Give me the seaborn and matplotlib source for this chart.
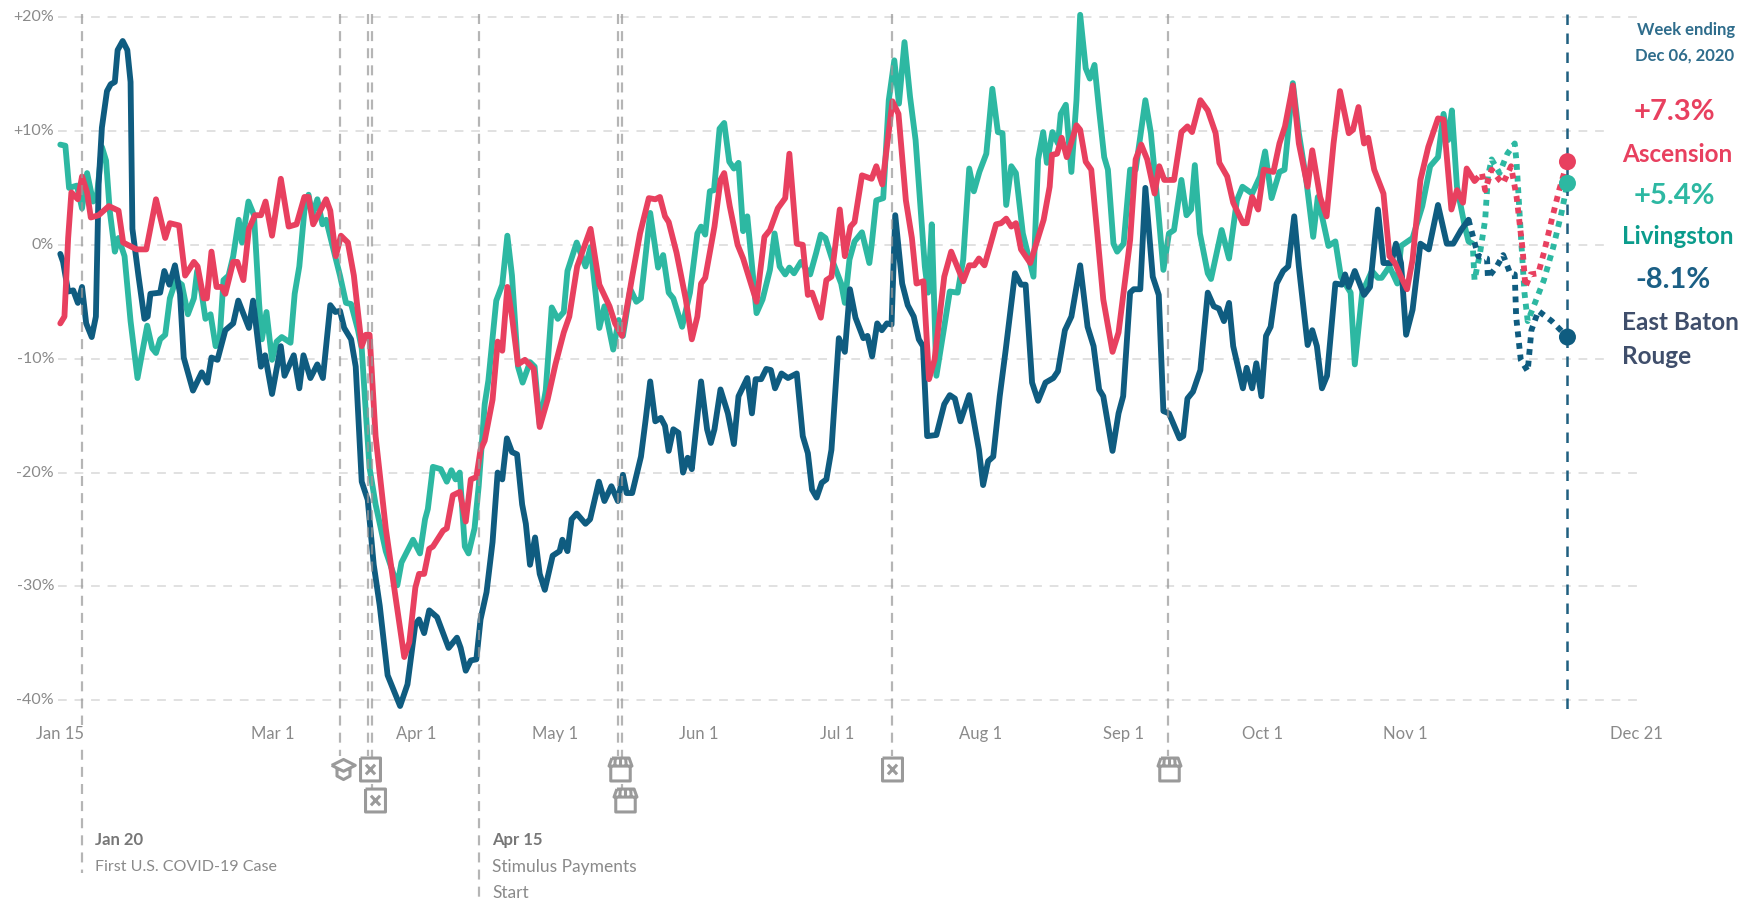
import pandas as pd
import seaborn as sns
import matplotlib.pyplot as plt
from matplotlib.path import Path

# x values are days since Jan 15 2020, y values are % change
START = pd.Timestamp("2020-01-15")

ebr_days = [0, 0.6, 1.7, 2.8, 3.8, 4.7, 5.6, 6.8, 7.7, 8.3, 9, 10.1, 10.9, 11.8, 12.4, 13.5, 14.5, 15.2, 15.6, 16.9,
            18.2, 18.9, 19.5, 21.6, 22.5, 23.6, 24.8, 25.9, 26.7, 28.7, 30.6, 31.8, 32.7, 34, 35.7, 37.4, 38.5, 40.8,
            41.7, 43.4, 44.3, 45.8, 47.7, 48.5, 50.5, 51.7, 52.6, 54.1, 55.6, 56.8, 58.4, 59.5, 60.5, 61.4, 62.9, 63.9,
            65.2, 66.5, 67.8, 69.1, 70.8, 73.5, 75.1, 76.8, 77.6, 78.7, 79.8, 81.5, 84, 85.8, 86.6, 87.7, 88.8, 90,
            90.9, 92.2, 93.5, 94.6, 95.6, 96.6, 97.7, 98.8, 99.9, 100.7, 101.6, 102.7, 103.7, 104.8, 106.5, 108, 108.6,
            109.7, 110.6, 111.7, 113.6, 114.6, 116.5, 117.7, 119.2, 120.6, 121.7, 122.5, 123.7, 125.6, 126.6, 127.6,
            128.7, 129.9, 130.8, 131.6, 132.6, 133.7, 134.7, 135.7, 136.6, 138.6, 139.9, 140.7, 141.5, 142.8, 144.4,
            145.7, 146.7, 148.6, 149.6, 150.4, 151.6, 152.7, 153.7, 154.6, 156, 157.4, 159.3, 160.6, 161.7, 162.6,
            163.6, 164.7, 165.7, 166.8, 168, 168.4, 169.7, 170.8, 172, 173.7, 174.6, 175.6, 176.7, 177.7, 178.8, 179.8,
            180.6, 182.1, 183.3, 184.6, 185.7, 186.6, 187.5, 189.5, 191.2, 192.4, 193.5, 194.7, 196.6, 198.7, 199.6,
            200.7, 201.8, 203.2, 204.5, 206.5, 207.8, 208.8, 210.2, 211.5, 213.1, 214.8, 215.8, 217.3, 218.7, 220.6,
            222.2, 223.5, 224.7, 225.6, 227.6, 228.9, 229.9, 231.4, 232.2, 233.6, 234.7, 236.3, 237.6, 238.6, 239.8,
            242.1, 242.9, 243.8, 245, 246.6, 248.2, 249.5, 250.6, 251.7, 252.8, 253.7, 255.8, 256.6, 257.8, 258.7,
            259.8, 260.8, 261.8, 263.1, 264.5, 265.6, 266.9, 267.9, 269.8, 270.8, 271.8, 272.9, 274, 275.8, 277.2,
            277.9, 278.7, 280, 282, 283.3, 285, 286.2, 287.9, 288.9, 290, 291.1, 292.5, 294.2, 296, 298, 299.9, 301.3,
            303, 304.6]
ebr_values = [-0.8, -1.5, -4.1, -4, -5.1, -3.7, -6.9, -8.1, -6.3, 5.4, 10.3, 13.5, 14.1, 14.3, 17.1, 17.9, 17.1, 14.3,
              1.4, -2.7, -6.5, -6.3, -4.3, -4.2, -2.3, -3.5, -1.8, -4.3, -9.9, -12.8, -11.2, -12.1, -9.9, -10.1, -7.5,
              -6.9, -4.9, -7.3, -4.9, -10.7, -9.7, -13.1, -8.9, -11.5, -9.7, -12.6, -9.7, -11.7, -10.5, -11.7, -5.3,
              -5.9, -5.8, -7.3, -8.3, -10.7, -20.8, -22.4, -28.1, -31.7, -37.8, -40.5, -38.6, -33.3, -32.9, -34.1,
              -32.1, -32.7, -35.4, -34.5, -35.4, -37.4, -36.5, -36.4, -32.9, -30.5, -26.1, -20, -20.6, -17, -18.2,
              -18.4, -22.8, -24.5, -28.1, -25.7, -28.9, -30.3, -27.3, -26.9, -25.9, -26.9, -24.1, -23.6, -24.5, -24.1,
              -20.8, -22.5, -21.2, -22.5, -20.2, -21.8, -21.8, -18.6, -15.4, -12, -15.5, -15.2, -15.9, -18.1, -16.2,
              -16.5, -20, -18.7, -19.7, -12, -16.2, -17.4, -16.2, -12.7, -14.8, -17.5, -13.3, -11.7, -14.8, -11.8,
              -11.8, -10.9, -11, -12.6, -11.3, -11.7, -11.3, -16.8, -18.3, -21.5, -22.2, -20.9, -20.6, -18, -10.7,
              -8.2, -9.4, -3.9, -6.4, -8.2, -8, -9.8, -6.9, -7.5, -6.9, -7, 2.6, -3.4, -5.3, -6.3, -8.3, -8.9, -16.8,
              -16.7, -14, -13.2, -13.5, -15.5, -13.2, -18, -21.1, -19, -18.6, -13.3, -9.2, -2.5, -3.5, -3.5, -12.1,
              -13.7, -12.1, -11.7, -11.1, -7.5, -6.3, -1.8, -7.2, -8.9, -12.7, -13.3, -18.1, -14.8, -13.3, -4.2, -3.9,
              -3.9, 5, -2.8, -4.4, -14.6, -14.8, -17, -16.8, -13.5, -12.9, -11, -4.2, -5.4, -5.6, -6.7, -5.1, -8.9,
              -12.6, -10.8, -12.6, -10.4, -13.3, -8, -7.2, -3.4, -2.3, -1.9, 2.5, -1.9, -8.8, -7.5, -8.9, -12.6, -11.5,
              -3.4, -3.5, -2.6, -3.7, -2.3, -4.4, -3.7, 3.1, -1.6, -1.6, 0.1, -1.6, -7.9, -5.7, 0.1, -0.4, 3.5, 0.1,
              0.1, 1.3, 2.2]
ebr_proj_days = [304.6, 306.7, 308.6, 308.8, 310.7, 312.1, 313.6, 314.6, 314.9, 315.9, 317.4, 318.2, 319.7, 322.6, 326]
ebr_proj_values = [2.2, -1, -1.2, -2.9, -1.9, -0.9, -2.5, -2.6, -6.3, -10.1, -11.1, -7.5, -5.8, -6.7, -8.1]

liv_days = [0, 1.1, 1.9, 3.6, 4.7, 5.8, 7.1, 7.9, 9, 9.9, 10.7, 11.8, 12.6, 13.9, 15.2, 16.7, 17.7, 18.8, 19.9, 20.7,
            21.6, 22.7, 23.7, 25, 26.3, 27.6, 28.9, 29.6, 30.6, 31.4, 32.5, 33.6, 34.4, 35.3, 36.4, 37.4, 38.6, 39.3,
            40.7, 41.9, 43, 43.6, 44.6, 45.8, 46.8, 47.9, 49.8, 50.7, 51.7, 52.8, 53.7, 54.5, 55.6, 56.7, 57.5, 59.2,
            60.5, 61.8, 62.9, 64.4, 65.2, 66.1, 66.9, 68.2, 70.4, 72.9, 73.8, 76.3, 77.8, 78.9, 79.5, 80.6, 82.3, 83.6,
            84.6, 85.5, 86.4, 87.5, 88.3, 89.6, 90.5, 91.8, 92.6, 94.3, 95.6, 96.7, 97.7, 99, 100, 101.6, 102.6, 103.7,
            105, 106.3, 107.6, 108.9, 109.7, 111.7, 113.6, 114.7, 116.6, 117.7, 119.6, 120.8, 121.7, 123.3, 124.6,
            125.6, 127.6, 129.3, 130.4, 131.6, 132.6, 134.5, 136.2, 137.8, 138.6, 139.5, 140.5, 141.4, 142.6, 143.6,
            144.7, 145.7, 146.7, 147.7, 148.6, 150.6, 151.9, 153.5, 154.5, 155.6, 156.8, 157.7, 158.7, 160.2, 162.2,
            163.5, 164.5, 165.5, 167.2, 168.9, 169.7, 170.7, 171.8, 173.4, 175, 175.5, 176.5, 178, 179.2, 180.4, 181.4,
            182.6, 183.8, 185, 187, 187.7, 188.5, 189.5, 191.2, 192.4, 194.1, 195.3, 196.6, 197.6, 198.8, 200.3, 201.6,
            202.8, 203.8, 204.6, 205.7, 206.7, 208.2, 210.5, 211.5, 212.6, 213.4, 214.6, 215.8, 216.4, 217.5, 218.7,
            219.8, 220.6, 221.8, 222.7, 223.7, 224.7, 225.8, 226.6, 227.8, 228.6, 230, 231.4, 232.6, 234.7, 235.9,
            237.4, 238.6, 239.8, 240.9, 242.5, 243.6, 244.6, 245.4, 246.5, 248.2, 248.9, 251.2, 252.8, 254.5, 255.7,
            257.8, 259.5, 260.6, 262, 263.7, 264.8, 266.6, 267.9, 269.5, 271, 272, 274.3, 275.8, 277, 279.1, 280,
            281.6, 283.7, 285, 285.8, 287.5, 289.2, 290, 292.5, 294.6, 296.3, 298, 299.2, 300.2, 301, 302.1, 303.8,
            304.6]
liv_values = [8.8, 8.7, 5, 5.2, 3.2, 6.3, 3.8, 4.2, 8.6, 7.4, 3, -0.6, 0.6, -1, -6.7, -11.7, -9.5, -7.1, -9.1, -9.5,
              -8.3, -7.9, -4.7, -3.1, -3.5, -6.1, -4.7, -2.3, -4.3, -6.5, -6.1, -8.9, -8.7, -3.1, -2.7, -1, 2.2, 0.2,
              3.8, 2.6, -5.1, -8.3, -5.9, -10.1, -8.5, -8.1, -8.6, -4.3, -1.9, 3, 4.4, 2.6, 4, 1.8, 2.2, -0.6, -2.7,
              -5.1, -5.2, -7.5, -9.1, -14.8, -19.6, -22.8, -26.9, -29.9, -27.9, -25.9, -27.1, -24.1, -23.2, -19.5,
              -19.7, -20.8, -19.8, -20.6, -20, -26.5, -27.1, -24.9, -21.2, -14, -11.9, -4.9, -3.5, 0.8, -2.7, -10.7,
              -12.1, -10.3, -10.7, -15.8, -12.8, -5.5, -6.5, -5.9, -2.3, 0.2, -1.9, -0.2, -7.3, -5.4, -9.2, -6.6, -8,
              -3.9, -5, -4.7, 2.8, -2, -0.9, -4.2, -4.7, -7.2, -4.2, 1, 1.6, 0.9, 4.7, 4.8, 10.2, 10.7, 7.3, 6.7, 7.2,
              1.2, 2.5, -6, -4.8, -2.2, 1, -1.9, -2.6, -2, -2.5, -1.5, -2.6, -0.7, 0.9, 0.6, -1.6, -3.4, -5.1, -1.3,
              0.3, 1.1, -1.6, 0, 3.9, 4.1, 12.7, 16.2, 12.4, 17.8, 13, 9.2, -1.9, -4.2, 1.8, -11.5, -7.2, -4.1, -4.2,
              -1.3, 6.7, 4.7, 6.4, 8, 13.7, 9.9, 9.8, 3.5, 6.9, 6.3, 1, -2.8, 7.5, 9.9, 7.2, 9.9, 8.9, 11.5, 12.3, 6.4,
              12.7, 20.2, 15.5, 14.6, 15.8, 11.8, 7.7, 6.6, 0.1, -0.6, 0.1, 6.6, 6.6, 12.7, 9.8, 3.4, -2.2, 1, 1.3, 5.7,
              2.6, 3.1, 7, 1, -2.5, -3, 1.3, -1.2, 3.9, 5.1, 4.5, 6, 8.2, 4.1, 6.4, 6.6, 14.2, 9.8, 5.7, 0.7, 4.2, -0.1,
              0.3, -2.8, -4.2, -10.5, -4.2, -2.3, -2.9, -2.9, -1.9, -3.4, -0.1, 0.6, 3.4, 6.9, 7.7, 11.5, 9.2, 11.8,
              5.1, 1.6, 0.3]
liv_proj_days = [304.6, 305.5, 305.9, 307.1, 308.2, 308.8, 309.6, 311.3, 313, 314.6, 315, 315.9, 316.7, 317.4, 318.4,
                 320.9, 323, 324.7, 326]
liv_proj_values = [0.3, 0.1, -3.1, -0.7, 2.2, 6, 7.5, 6.3, 8, 8.9, 7.2, 1, -4.2, -6.7, -5.7, -3.1, -0.1, 2.8, 5.4]

asc_days = [0, 0.9, 1.7, 2.4, 3.8, 4.7, 5.8, 6.6, 8.3, 10.5, 12.6, 13.6, 16.5, 18.6, 20.7, 22.7, 23.7, 25.7, 27, 28.9,
            29.7, 31, 31.7, 32.7, 33.8, 34.9, 35.7, 37.4, 38.3, 39.6, 40.8, 42.1, 43.4, 44.4, 45.8, 47.7, 49.4, 51.1,
            52.8, 53.7, 54.7, 57.5, 58.4, 59.6, 60.7, 62.2, 63.5, 65.2, 66.1, 66.9, 68.2, 70.4, 72.5, 74.4, 75.5, 76.8,
            77.6, 78.7, 79.8, 80.6, 82.8, 83.6, 84.9, 86.4, 87.7, 88.8, 90, 90.9, 91.8, 93.5, 94.6, 95.6, 96.7, 97.7,
            99, 100.5, 102.4, 103.7, 105.4, 107.1, 108.9, 110.1, 111.8, 114.7, 116.6, 118.8, 120, 121.5, 123.7, 125.4,
            127.3, 128.7, 129.7, 130.8, 131.6, 133.3, 135.3, 136.6, 137.8, 138.6, 139.5, 141.5, 142.8, 143.6, 144.8,
            146.5, 147.7, 150.6, 152.3, 153.5, 155.2, 156.8, 157.7, 159.3, 160.6, 161.7, 162.6, 164.5, 165.7, 166.8,
            168.6, 169.7, 170.9, 171.8, 173.4, 175.5, 176.5, 177.8, 180, 181.3, 182.9, 184.2, 185.2, 186.7, 187.9,
            189.1, 191.2, 192.7, 195.3, 196.6, 197.7, 198.7, 199.9, 201.1, 202.4, 203.5, 204.6, 205.7, 206.7, 207.8,
            209.8, 212.7, 214, 214.5, 215.6, 216.6, 217.7, 219.8, 220.6, 221.8, 223, 224.3, 225.6, 227.6, 228.9, 231.4,
            232.6, 233.8, 235.1, 236.7, 237.7, 238.8, 240.9, 242.5, 243.8, 244.8, 246.6, 248.2, 249.9, 250.7, 252.4,
            253.7, 255.8, 256.6, 257.8, 259.1, 260.3, 262.4, 263.7, 264.9, 266.6, 267.9, 269.8, 270.8, 272.5, 273.9,
            275.4, 276.8, 278.7, 279.6, 280.8, 282, 282.9, 284.2, 286.2, 287.5, 288.7, 290, 291.3, 292.5, 294.2, 295.9,
            298, 299.2, 300.9, 302.1, 303.4, 304.2, 305.9]
asc_values = [-6.9, -6.3, 0.6, 4.6, 4, 6, 4.6, 2.4, 2.6, 3.4, 3, 0.2, -0.4, -0.4, 4, 0.6, 1.9, 1.7, -2.7, -1.5, -1.9,
              -4.7, -4.7, -0.6, -3.7, -3.7, -4.3, -1.5, -1.5, -3.1, 1.4, 2.6, 2.6, 3.8, 0.8, 5.8, 1.6, 1.8, 4.2, 4.2,
              1.8, 4, 3, -1, 0.8, 0.2, -2.7, -8.9, -7.9, -7.9, -16.8, -24.9, -30.9, -36.2, -34.9, -30.1, -28.9, -28.9,
              -26.7, -26.5, -25.1, -24.9, -22, -21.7, -24.3, -20.6, -20.4, -18, -17.2, -13.6, -8.5, -9.3, -3.7, -6.3,
              -10.5, -10.1, -10.9, -16, -13.6, -10.5, -7.7, -6.3, -1.9, 1.4, -3.5, -5.4, -6.9, -8, -2.8, 1, 4.1, 4,
              4.2, 2.5, 2, -0.7, -4.8, -8.3, -6.3, -3.4, -2.9, 1.6, 5.7, 6.3, 3.4, 0, -1.2, -5, 0.7, 1.3, 3.2, 4.1, 8,
              0.1, 0, -4.4, -4.2, -6.4, -3.1, -2.8, 3.1, -1, 1.6, 2, 6.1, 5.8, 6.9, 5.3, 12.6, 11.5, 3.9, 0.6, -3.4,
              -3.2, -11.8, -10.1, -2.8, -0.6, -3.2, -1.8, -1.8, -1.2, -1.8, -0.1, 1.8, 1.9, 2.3, 1.6, 1.9, -0.4, -1.6,
              2.2, 5.1, 7.9, 8, 9.4, 7.7, 10.5, 10.1, 7.3, 6.6, 1, -4.8, -9.4, -7.7, 0.4, 7.5, 8.8, 7.5, 4.5, 6.9, 5.7,
              5.7, 9.9, 10.4, 9.9, 12.7, 11.8, 9.8, 7.2, 6, 3.7, 1.9, 1.9, 4.2, 3.1, 6.6, 6.4, 8.9, 10.4, 14, 8.9, 5.1,
              8.3, 4.2, 2.5, 8.9, 13.5, 9.8, 10.1, 12.1, 8.9, 9.4, 6.6, 4.5, -1, -1.6, -2.8, -3.9, -1.3, 5.7, 8.6, 11.1,
              11, 3.1, 4.8, 3.7, 6.7, 5.6]
asc_proj_days = [305.9, 307.5, 308.2, 309.6, 311.3, 312.1, 313.8, 315, 316.3, 316.9, 318, 319.7, 320.9, 322.6, 324.2,
                 326]
asc_proj_values = [5.6, 6.3, 4.8, 6.6, 5.7, 5.4, 6.9, 4.2, -0.4, -3.7, -2.6, -2.5, -0.7, 2.2, 4.8, 7.3]

y_ticks = [20, 10, 0, -10, -20, -30, -40]
y_tick_labels = ["+20%", "+10%", "0%", "-10%", "-20%", "-30%", "-40%"]
x_tick_dates = ["2020-01-15", "2020-03-01", "2020-04-01", "2020-05-01", "2020-06-01", "2020-07-01", "2020-08-01",
                "2020-09-01", "2020-10-01", "2020-11-01", "2020-12-21"]
x_tick_labels = ["Jan 15", "Mar 1", "Apr 1", "May 1", "Jun 1", "Jul 1", "Aug 1", "Sep 1", "Oct 1", "Nov 1", "Dec 21"]
last_day = 326

# event lines: day, how far down they run
event_days = [4.7, 60.5, 66.6, 67.5, 90.6, 120.7, 121.6, 179.9, 239.6]
event_bottoms = [-55.2, -44.9, -44.9, -47.7, -57.4, -44.9, -47.7, -44.9, -44.9]

COLORS = {"Livingston": "#2DB8A2", "East Baton Rouge": "#0F5C80", "Ascension": "#E8405F"}
GRAY = "#8a8a8a"

M, L = Path.MOVETO, Path.LINETO
BOX_ICON = Path([(-0.87, 1), (0.87, 1), (0.87, -1), (-0.87, -1), (-0.87, 1),
                 (-0.4, 0.42), (0.4, -0.42), (-0.4, -0.42), (0.4, 0.42)],
                [M, L, L, L, L, M, L, M, L])
CAP_ICON = Path([(-1, 0.35), (0, 0.85), (1, 0.35), (0, -0.15), (-1, 0.35),
                 (-0.55, 0.1), (-0.55, -0.55), (0, -0.85), (0.55, -0.55), (0.55, 0.1)],
                [M, L, L, L, L, M, L, L, L, L])
STORE_ICON = Path([(-0.75, 1), (0.75, 1), (1, 0.3), (-1, 0.3), (-0.75, 1),
                   (-0.85, 0.3), (-0.85, -1), (0.85, -1), (0.85, 0.3),
                   (-0.45, 1), (-0.5, 0.3), (0, 1), (0, 0.3), (0.45, 1), (0.5, 0.3)],
                  [M, L, L, L, L, M, L, L, L, M, L, M, L, M, L])

# icon, day, y position on the value scale
icons = [(CAP_ICON, 61.2, -46), (BOX_ICON, 67, -46), (BOX_ICON, 68, -48.75), (STORE_ICON, 121.1, -46),
         (STORE_ICON, 122.1, -48.75), (BOX_ICON, 180, -46), (STORE_ICON, 239.9, -46)]


def build_frame(solid: bool) -> pd.DataFrame:
    """
    Long table of the three counties, either the solid part or the dotted end of the lines.
    """
    if solid:
        parts = [("Livingston", liv_days, liv_values), ("East Baton Rouge", ebr_days, ebr_values),
                 ("Ascension", asc_days, asc_values)]
    else:
        parts = [("Livingston", liv_proj_days, liv_proj_values), ("East Baton Rouge", ebr_proj_days, ebr_proj_values),
                 ("Ascension", asc_proj_days, asc_proj_values)]
    frames = [pd.DataFrame({"county": name, "day": d, "value": v}) for name, d, v in parts]
    return pd.concat(frames, ignore_index=True)


def put_text(x, y, s, **kwargs):
    # position in pixels of the 1751x899 picture, measured from the top left
    plt.gcf().text(x / 1751, 1 - y / 899, s, va="center", **kwargs)


def fix_axes(ax):
    ax.set_xlim(-13.04, 365.7)
    ax.set_ylim(-57.45, 21.5)
    ax.axis("off")


sns.set_style("white")
plt.rcParams["font.family"] = ["Lato", "DejaVu Sans"]

fig = plt.figure(figsize=(17.51, 8.99), dpi=100)
ax = fig.add_axes([0, 0, 1, 1])
fix_axes(ax)

# grid
for tick in y_ticks:
    right = 334 if tick in (10, 0, -10) else 341
    ax.plot([-0.5, right], [tick, tick], color="#e1e1e1", lw=1.4, dashes=(4.5, 4), zorder=1)

# lines, teal first and red on top
sns.lineplot(data=build_frame(True), x="day", y="value", hue="county", palette=COLORS,
             hue_order=list(COLORS), estimator=None, sort=False, lw=4.2, legend=False, ax=ax,
             solid_joinstyle="round", solid_capstyle="round")
sns.lineplot(data=build_frame(False), x="day", y="value", hue="county", palette=COLORS,
             hue_order=list(COLORS), estimator=None, sort=False, lw=4.2, legend=False, ax=ax,
             linestyle=(0, (1.0, 1.0)), dash_capstyle="butt")
fix_axes(ax)

# event lines sit over the data lines, faintly
for day, bottom in zip(event_days, event_bottoms):
    ax.plot([day, day], [20.3, bottom], color="#999999", alpha=0.72, lw=1.6, dashes=(4.5, 3.2), zorder=3)
ax.plot([last_day, last_day], [20.3, -40.8], color="#1F5F80", lw=1.8, dashes=(4.2, 3.4), zorder=3)

# end dots
ends = pd.DataFrame({"county": ["Ascension", "Livingston", "East Baton Rouge"],
                     "day": [last_day] * 3, "value": [asc_proj_values[-1], liv_proj_values[-1], ebr_proj_values[-1]]})
sns.scatterplot(data=ends, x="day", y="value", hue="county", palette=COLORS, s=150, linewidth=0,
                legend=False, zorder=4, ax=ax)
fix_axes(ax)

# icons under the axis
for icon, day, y in icons:
    size = 17 if icon is CAP_ICON else 16.5
    ax.plot([day], [y], marker=icon, ms=size, mfc="white", mec="#9a9a9a", mew=2.2, ls="none", zorder=5)

# axis labels
for tick, label in zip(y_ticks, y_tick_labels):
    ax.text(-1.35, tick, label, ha="right", va="center", fontsize=11.5, color=GRAY)
for date, label in zip(x_tick_dates, x_tick_labels):
    day = (pd.Timestamp(date) - START).days
    ax.text(day, -42.95, label, ha="center", va="center", fontsize=12, color=GRAY,
            bbox=dict(facecolor="white", edgecolor="none", pad=1), zorder=6)

# notes
put_text(95, 840, "Jan 20", fontsize=12, fontweight="bold", color="#777777")
put_text(95, 867, "First U.S. COVID-19 Case", fontsize=11.5, color=GRAY)
put_text(492, 840, "Apr 15", fontsize=12, fontweight="bold", color="#777777")
put_text(492, 867, "Stimulus Payments", fontsize=12.5, color=GRAY)
put_text(492, 893, "Start", fontsize=12.5, color=GRAY)

# right side read-out
put_text(1686, 30, "Week ending", fontsize=12, fontweight="bold", color="#2F6D8C", ha="center")
put_text(1685, 56, "Dec 06, 2020", fontsize=12, fontweight="bold", color="#2F6D8C", ha="center")
put_text(1634, 112, "+7.3%", fontsize=21, fontweight="bold", color="#E8405F")
put_text(1622, 154, "Ascension", fontsize=17.5, fontweight="bold", color="#E8405F")
put_text(1634, 196, "+5.4%", fontsize=21, fontweight="bold", color="#2DB8A2")
put_text(1622, 237, "Livingston", fontsize=17.5, fontweight="bold", color="#0B9C8C")
put_text(1635, 280, "-8.1%", fontsize=21, fontweight="bold", color="#1B5F85")
put_text(1622, 322, "East Baton", fontsize=17.5, fontweight="bold", color="#3F4E6B")
put_text(1622, 356, "Rouge", fontsize=17.5, fontweight="bold", color="#3F4E6B")

fig.savefig("out.png", dpi=100, facecolor="white")
